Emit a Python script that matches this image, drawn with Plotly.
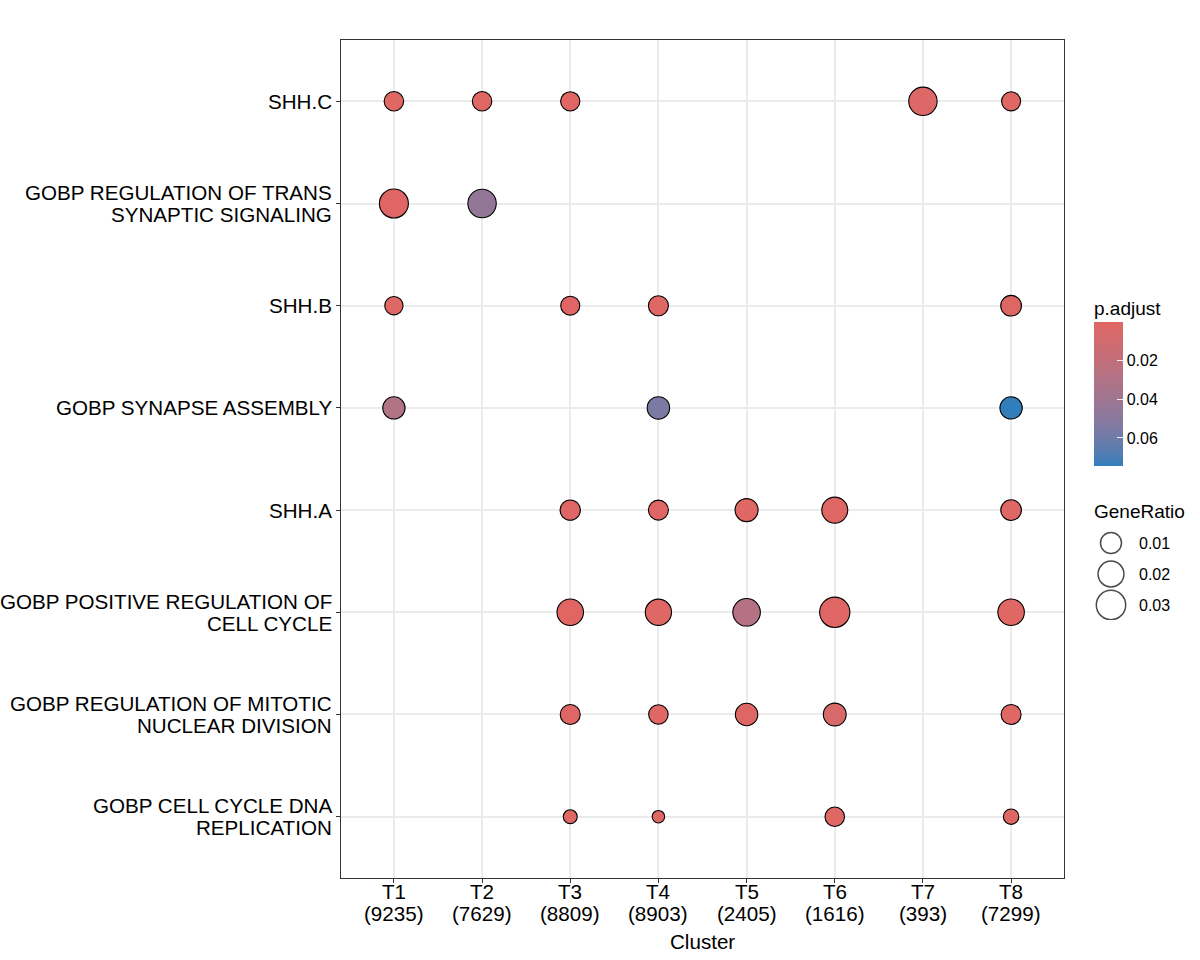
import textwrap
import plotly.graph_objects as go

# ---------------- data ----------------
clusters = ["T1", "T2", "T3", "T4", "T5", "T6", "T7", "T8"]
cluster_counts = [9235, 7629, 8809, 8903, 2405, 1616, 393, 7299]

terms = [
    "SHH.C",
    "GOBP REGULATION OF TRANS SYNAPTIC SIGNALING",
    "SHH.B",
    "GOBP SYNAPSE ASSEMBLY",
    "SHH.A",
    "GOBP POSITIVE REGULATION OF CELL CYCLE",
    "GOBP REGULATION OF MITOTIC NUCLEAR DIVISION",
    "GOBP CELL CYCLE DNA REPLICATION",
]

# one entry per dot
point_cluster = [
    "T1", "T2", "T3", "T7", "T8",
    "T1", "T2",
    "T1", "T3", "T4", "T8",
    "T1", "T4", "T8",
    "T3", "T4", "T5", "T6", "T8",
    "T3", "T4", "T5", "T6", "T8",
    "T3", "T4", "T5", "T6", "T8",
    "T3", "T4", "T6", "T8",
]
point_term = (
    [terms[0]] * 5 + [terms[1]] * 2 + [terms[2]] * 4 + [terms[3]] * 3
    + [terms[4]] * 5 + [terms[5]] * 5 + [terms[6]] * 5 + [terms[7]] * 4
)
gene_ratio = [
    0.0078, 0.0078, 0.0075, 0.0270, 0.0072,
    0.0288, 0.0270,
    0.0064, 0.0072, 0.0085, 0.0095,
    0.0122, 0.0125, 0.0122,
    0.0089, 0.0085, 0.0136, 0.0203, 0.0095,
    0.0216, 0.0210, 0.0244, 0.0330, 0.0216,
    0.0085, 0.0078, 0.0124, 0.0132, 0.0085,
    0.0034, 0.0032, 0.0078, 0.0040,
]
p_adjust = [
    0.0010, 0.0012, 0.0008, 0.0030, 0.0010,
    0.0005, 0.0450,
    0.0010, 0.0008, 0.0010, 0.0012,
    0.0300, 0.0550, 0.0745,
    0.0005, 0.0008, 0.0010, 0.0012, 0.0010,
    0.00001, 0.0010, 0.0280, 0.0005, 0.0010,
    0.0008, 0.0010, 0.0015, 0.0060, 0.0010,
    0.0010, 0.0012, 0.0010, 0.0012,
]

legend_ratios = [0.01, 0.02, 0.03]
colorbar_ticks = [0.02, 0.04, 0.06]

# ---------------- styling helpers ----------------
LOW_COL, HIGH_COL = "#e06663", "#327eba"


def _hex2rgb(h):
    h = h.lstrip("#")
    return [int(h[i:i + 2], 16) / 255 for i in (0, 2, 4)]


def _lin(c):
    return c / 12.92 if c <= 0.04045 else ((c + 0.055) / 1.055) ** 2.4


def _delin(c):
    c = max(0.0, min(1.0, c))
    return 12.92 * c if c <= 0.0031308 else 1.055 * c ** (1 / 2.4) - 0.055


WX, WY, WZ = 0.95047, 1.0, 1.08883


def _f(t):
    return t ** (1 / 3) if t > 0.008856 else 7.787 * t + 16 / 116


def _finv(t):
    return t ** 3 if t ** 3 > 0.008856 else (t - 16 / 116) / 7.787


def to_lab(h):
    r, g, b = [_lin(c) for c in _hex2rgb(h)]
    x = 0.4124 * r + 0.3576 * g + 0.1805 * b
    y = 0.2126 * r + 0.7152 * g + 0.0722 * b
    z = 0.0193 * r + 0.1192 * g + 0.9505 * b
    fx, fy, fz = _f(x / WX), _f(y / WY), _f(z / WZ)
    return 116 * fy - 16, 500 * (fx - fy), 200 * (fy - fz)


def from_lab(L, a, b):
    fy = (L + 16) / 116
    fx = fy + a / 500
    fz = fy - b / 200
    x, y, z = WX * _finv(fx), WY * _finv(fy), WZ * _finv(fz)
    r = 3.2406 * x - 1.5372 * y - 0.4986 * z
    g = -0.9689 * x + 1.8758 * y + 0.0415 * z
    bb = 0.0557 * x - 0.2040 * y + 1.0570 * z
    return "rgb({},{},{})".format(*[round(_delin(c) * 255) for c in (r, g, bb)])


lab_hi, lab_lo = to_lab(HIGH_COL), to_lab(LOW_COL)
n_stops = 11
# colour value is -p.adjust so the bar reads low p (red) at the top
colorscale = []
for i in range(n_stops):
    t = i / (n_stops - 1)
    lab = [lab_hi[k] + (lab_lo[k] - lab_hi[k]) * t for k in range(3)]
    colorscale.append([t, from_lab(*lab)])

rmin, rmax = min(gene_ratio), max(gene_ratio)
D_MIN, D_MAX = 12.5, 30.3


def ratio_to_size(v):
    s = max(0.0, (v - rmin) / (rmax - rmin))
    return D_MIN + (D_MAX - D_MIN) * s ** 0.5


FONT = "Liberation Sans, Arial, sans-serif"
AX_SIZE = 20.6
LINE_GAP = 22

# ---------------- figure ----------------
W, H = 1200, 960
ML, MR, MT, MB = 341, 10, 40, 82
plot_w = W - ML - MR
plot_h = H - MT - MB
panel_right_px = 1064
x_dom_end = (panel_right_px - ML) / plot_w


def px_x(px):
    return (px - ML) / plot_w


def px_y(py):
    return (H - MB - py) / plot_h


fig = go.Figure()

fig.add_trace(go.Scatter(
    x=point_cluster,
    y=point_term,
    mode="markers",
    marker=dict(
        size=[ratio_to_size(v) for v in gene_ratio],
        color=[-p for p in p_adjust],
        colorscale=colorscale,
        cmin=-max(p_adjust),
        cmax=-min(p_adjust),
        line=dict(color="black", width=1.1),
        opacity=1,
        colorbar=dict(
            x=px_x(1094), xanchor="left",
            y=px_y(394), yanchor="middle",
            len=144, lenmode="pixels",
            thickness=29, thicknessmode="pixels",
            outlinewidth=0, xpad=0, ypad=0,
            ticks="inside", ticklen=6, tickcolor="rgba(255,255,255,0.9)", tickwidth=1,
            tickvals=[-v for v in colorbar_ticks],
            ticktext=[f"{v:.2f}" for v in colorbar_ticks],
            tickfont=dict(family=FONT, size=16, color="black"),
        ),
    ),
    showlegend=False,
    hoverinfo="skip",
))

# legend titles
fig.add_annotation(x=px_x(1092), y=px_y(308), xref="paper", yref="paper",
                   text="p.adjust", showarrow=False, xanchor="left", yanchor="middle",
                   font=dict(family=FONT, size=19, color="black"))
fig.add_annotation(x=px_x(1092), y=px_y(512), xref="paper", yref="paper",
                   text="GeneRatio", showarrow=False, xanchor="left", yanchor="middle",
                   font=dict(family=FONT, size=19, color="black"))

# size legend (GeneRatio) drawn on its own small axis
leg_top_px, leg_bot_px = 525, 620
leg_first_px, leg_step_px = 543, 31
leg_y = [leg_first_px + i * leg_step_px for i in range(len(legend_ratios))]
fig.add_trace(go.Scatter(
    x=[18] * len(legend_ratios),
    y=leg_y,
    xaxis="x2", yaxis="y2",
    mode="markers",
    marker=dict(size=[ratio_to_size(v) for v in legend_ratios], color="white",
                line=dict(color="black", width=1.5)),
    showlegend=False, hoverinfo="skip",
))
for v, yy in zip(legend_ratios, leg_y):
    fig.add_annotation(x=44, y=yy, xref="x2", yref="y2", text=f"{v:.2f}",
                       showarrow=False, xanchor="left", yanchor="middle",
                       font=dict(family=FONT, size=16, color="black"))

# y-axis labels (wrapped like the original, tight line spacing)
for t in terms:
    lines = textwrap.wrap(t, 30)
    n = len(lines)
    for k, ln in enumerate(lines):
        shift = ((n - 1) / 2 - k) * LINE_GAP
        fig.add_annotation(x=0, y=t, xref="paper", yref="y", text=ln,
                           showarrow=False, xanchor="right", yanchor="middle",
                           xshift=-7, yshift=shift,
                           font=dict(family=FONT, size=AX_SIZE, color="black"))

# x-axis labels
for c, n in zip(clusters, cluster_counts):
    for k, ln in enumerate([c, f"({n})"]):
        fig.add_annotation(x=c, y=0, xref="x", yref="paper", text=ln,
                           showarrow=False, xanchor="center", yanchor="middle",
                           yshift=-13 - k * LINE_GAP,
                           font=dict(family=FONT, size=AX_SIZE, color="black"))
fig.add_annotation(x=x_dom_end / 2, y=0, xref="paper", yref="paper", text="Cluster",
                   showarrow=False, xanchor="center", yanchor="middle", yshift=-63,
                   font=dict(family=FONT, size=AX_SIZE, color="black"))

fig.update_layout(
    width=W, height=H,
    margin=dict(l=ML, r=MR, t=MT, b=MB),
    paper_bgcolor="white", plot_bgcolor="white",
    font=dict(family=FONT, size=16, color="black"),
    xaxis=dict(
        domain=[0, x_dom_end],
        type="category", categoryorder="array", categoryarray=clusters,
        range=[-0.6, len(clusters) - 0.4],
        showticklabels=False,
        showgrid=True, gridcolor="#EBEBEB", gridwidth=2,
        showline=True, linecolor="#333333", linewidth=1, mirror=True,
        ticks="outside", ticklen=4, tickcolor="#333333",
        zeroline=False,
    ),
    yaxis=dict(
        type="category", categoryorder="array", categoryarray=list(reversed(terms)),
        range=[-0.6, len(terms) - 0.4],
        showticklabels=False,
        showgrid=True, gridcolor="#EBEBEB", gridwidth=2,
        showline=True, linecolor="#333333", linewidth=1, mirror=True,
        ticks="outside", ticklen=4, tickcolor="#333333",
        zeroline=False,
    ),
    xaxis2=dict(domain=[px_x(1093), px_x(1173)], range=[0, 80], visible=False,
                anchor="y2", fixedrange=True),
    yaxis2=dict(domain=[px_y(leg_bot_px), px_y(leg_top_px)], range=[leg_bot_px, leg_top_px],
                visible=False, anchor="x2", fixedrange=True),
)

fig.write_html("out.html")
